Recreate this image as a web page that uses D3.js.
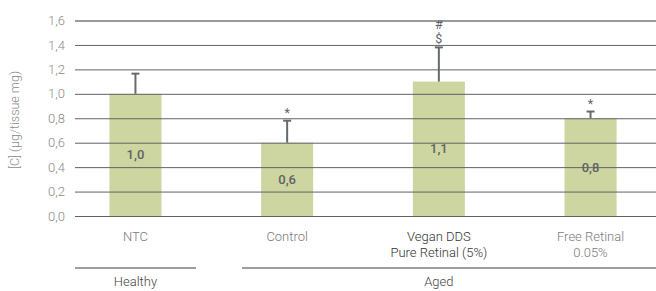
<!DOCTYPE html>
<html><head><meta charset="utf-8">
<script src="https://cdn.jsdelivr.net/npm/d3@7"></script>
<style>body{margin:0;background:#fff}svg{display:block}text{font-family:Roboto,"Open Sans",sans-serif}</style>
</head><body><svg id="c" width="656" height="291"></svg>
<script>
const categories = [["NTC"], ["Control"], ["Vegan DDS", "Pure Retinal (5%)"], ["Free Retinal", "0.05%"]];
const catKeys = ["NTC", "Control", "Vegan", "Free"];
const values = [1.0, 0.6, 1.1, 0.8];
const errors = [0.165, 0.18, 0.28, 0.055];
const labels = ["1,0", "0,6", "1,1", "0,8"];
const marks = [[], ["*"], ["$", "#"], ["*"]];
const yTicks = [0, 0.2, 0.4, 0.6, 0.8, 1.0, 1.2, 1.4, 1.6];
const groups = [{name: "Healthy", from: 0, to: 0}, {name: "Aged", from: 1, to: 3}];

const svg = d3.select("#c");
const x = d3.scaleBand().domain(catKeys).range([59.6, 666.4]).paddingInner(0.657).paddingOuter(0.3285);
const y = d3.scaleLinear().domain([0, 1.6]).range([216, 20.5]);
const gridX0 = 75, gridX1 = 656;

// bars
svg.selectAll("rect.bar").data(values).join("rect")
  .attr("x", (d, i) => x(catKeys[i])).attr("width", x.bandwidth())
  .attr("y", d => y(d)).attr("height", d => y(0) - y(d))
  .attr("fill", "#cdd5a0");

// gridlines via axis
const yAxis = d3.axisLeft(y).tickValues(yTicks).tickSize(-(gridX1 - gridX0)).tickPadding(10)
  .tickFormat(d => d3.format(".1f")(d).replace(".", ","));
const ga = svg.append("g").attr("transform", `translate(${gridX0},0)`).call(yAxis);
ga.select(".domain").remove();
ga.selectAll(".tick line").attr("stroke", d => d === 1.6 ? "#9a9a9a" : "#5f6366")
  .attr("stroke-width", d => d === 1.6 ? 2 : 1);
ga.selectAll(".tick text").attr("fill", "#8a8a8a").attr("font-size", 13).attr("font-weight", 300).attr("x", -10);

// error bars
const eb = svg.append("g");
values.forEach((v, i) => {
  const cx = x(catKeys[i]) + x.bandwidth() / 2;
  const top = y(v + errors[i]);
  eb.append("line").attr("x1", cx).attr("x2", cx).attr("y1", y(v)).attr("y2", top).attr("stroke", "#666a6d").attr("stroke-width", 2);
  eb.append("line").attr("x1", cx - 4).attr("x2", cx + 4).attr("y1", top).attr("y2", top).attr("stroke", "#666a6d").attr("stroke-width", 2);
  marks[i].forEach((m, k) => {
    eb.append("text").attr("x", cx).attr("y", top - 4 - k * 14).attr("text-anchor", "middle")
      .attr("font-size", 12.5).attr("font-weight", 400).attr("fill", "#606468").text(m);
  });
  svg.append("text").attr("x", cx).attr("y", y(v / 2)).attr("dy", "0.35em").attr("text-anchor", "middle")
    .attr("font-size", 13).attr("font-weight", 500).attr("fill", "#5f6366").text(labels[i]);
});

// category labels
categories.forEach((lines, i) => {
  const cx = x(catKeys[i]) + x.bandwidth() / 2;
  const t = svg.append("text").attr("x", cx).attr("y", 241).attr("text-anchor", "middle")
    .attr("font-size", 13).attr("font-weight", 300).attr("fill", i === 2 ? "#333" : "#7a7a7a");
  lines.forEach((l, k) => t.append("tspan").attr("x", cx).attr("dy", k === 0 ? 0 : 16).text(l));
});

// groups
const lineEnds = [[gridX0, 196], [242, gridX1]];
groups.forEach((g, gi) => {
  svg.append("line").attr("x1", lineEnds[gi][0]).attr("x2", lineEnds[gi][1]).attr("y1", 268).attr("y2", 268)
    .attr("stroke", "#7b7e80").attr("stroke-width", 1.5);
  const cx = (x(catKeys[g.from]) + x(catKeys[g.to]) + x.bandwidth()) / 2;
  svg.append("text").attr("x", cx).attr("y", 286).attr("text-anchor", "middle")
    .attr("font-size", 13).attr("font-weight", 300).attr("fill", "#444").text(g.name);
});

// y title
svg.append("text").attr("transform", "translate(19,120) rotate(-90)").attr("text-anchor", "middle")
  .attr("font-size", 12.5).attr("font-weight", 300).attr("fill", "#8a8a8a").text("[C] (µg/tissue mg)");
</script></body></html>
